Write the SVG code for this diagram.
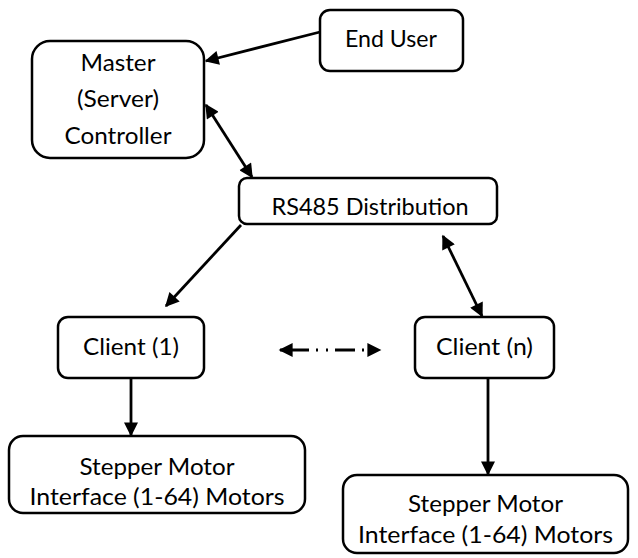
<svg xmlns="http://www.w3.org/2000/svg" width="638" height="558" viewBox="0 0 638 558">
<style>
.box{fill:#fff;stroke:#000;stroke-width:2.5}
.t{font-family:Lato,"Open Sans","Liberation Sans",sans-serif;font-size:23.5px;fill:#000;text-anchor:middle}
.c{stroke:#000;stroke-width:2.8;fill:none}
</style>
<defs>
<marker id="ah" viewBox="0 0 10 10" refX="9" refY="5" markerWidth="5.5" markerHeight="5" orient="auto-start-reverse" markerUnits="strokeWidth">
<path d="M0,0 L10,5 L0,10 Z" fill="#000"/>
</marker>
</defs>
<rect width="638" height="558" fill="#fff"/>
<g id="connectors">
<line class="c" x1="320" y1="32" x2="206" y2="61" marker-end="url(#ah)"/>
<line class="c" x1="206" y1="105" x2="252" y2="177" marker-start="url(#ah)" marker-end="url(#ah)"/>
<line class="c" x1="241" y1="225" x2="166" y2="306" marker-end="url(#ah)"/>
<line class="c" x1="443" y1="236" x2="482" y2="316" marker-start="url(#ah)" marker-end="url(#ah)"/>
<line class="c" x1="131" y1="378" x2="131" y2="435" marker-end="url(#ah)"/>
<line class="c" x1="488" y1="378" x2="488" y2="474" marker-end="url(#ah)"/>
<line class="c" x1="280" y1="350" x2="380" y2="350" stroke-dasharray="29 7 2 8 2 7 20 7 2 100" marker-start="url(#ah)" marker-end="url(#ah)"/>
</g>
<g id="master">
<rect class="box" x="32" y="41" width="172" height="117" rx="18"/>
<text class="t" x="118" y="71" textLength="75" lengthAdjust="spacingAndGlyphs">Master</text>
<text class="t" x="118" y="107" textLength="82" lengthAdjust="spacingAndGlyphs">(Server)</text>
<text class="t" x="118" y="144" textLength="107" lengthAdjust="spacingAndGlyphs">Controller</text>
</g>
<g id="enduser">
<rect class="box" x="320" y="10" width="143" height="61" rx="10"/>
<text class="t" x="391" y="47" textLength="92" lengthAdjust="spacingAndGlyphs">End User</text>
</g>
<g id="rs485">
<rect class="box" x="239" y="178" width="258" height="46" rx="8"/>
<text class="t" x="370" y="215" textLength="197" lengthAdjust="spacingAndGlyphs">RS485 Distribution</text>
</g>
<g id="client1">
<rect class="box" x="58" y="317" width="146" height="61" rx="10"/>
<text class="t" x="131" y="355" textLength="96" lengthAdjust="spacingAndGlyphs">Client (1)</text>
</g>
<g id="clientn">
<rect class="box" x="415" y="317" width="139" height="61" rx="10"/>
<text class="t" x="484.5" y="355" textLength="97" lengthAdjust="spacingAndGlyphs">Client (n)</text>
</g>
<g id="stepper1">
<rect class="box" x="9" y="436" width="296" height="77" rx="14"/>
<text class="t" x="157" y="475" textLength="155" lengthAdjust="spacingAndGlyphs">Stepper Motor</text>
<text class="t" x="157" y="505" textLength="255" lengthAdjust="spacingAndGlyphs">Interface (1-64) Motors</text>
</g>
<g id="steppern">
<rect class="box" x="343" y="475" width="285" height="78" rx="14"/>
<text class="t" x="485.5" y="512" textLength="155" lengthAdjust="spacingAndGlyphs">Stepper Motor</text>
<text class="t" x="485.5" y="543" textLength="255" lengthAdjust="spacingAndGlyphs">Interface (1-64) Motors</text>
</g>
</svg>
